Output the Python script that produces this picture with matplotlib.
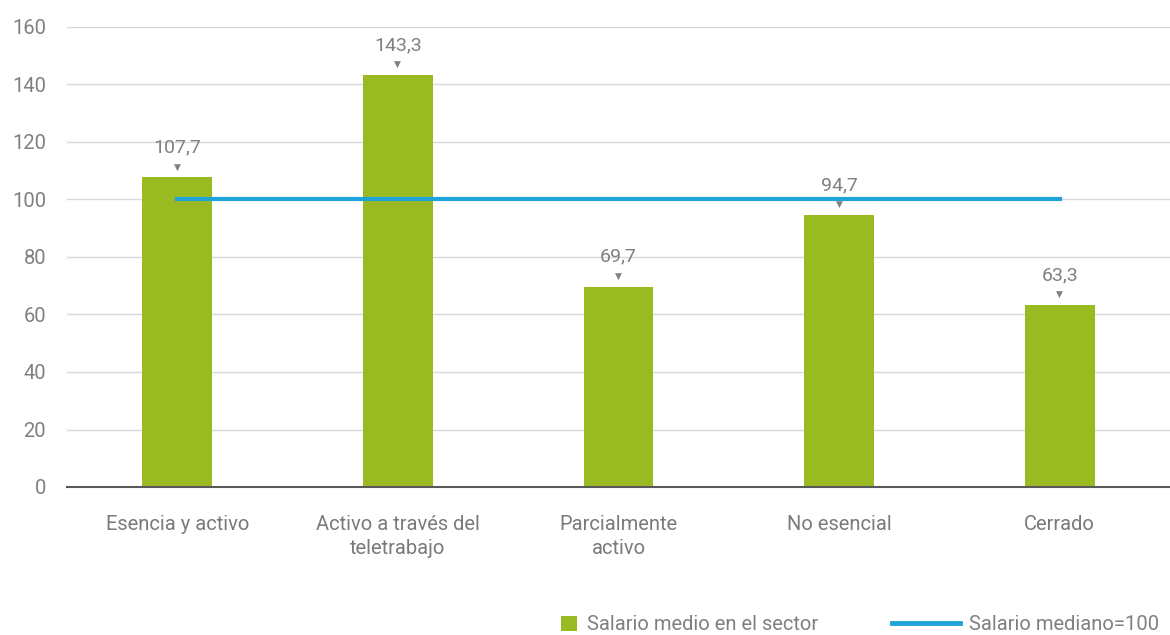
import matplotlib
matplotlib.use("Agg")
import matplotlib.pyplot as plt
from matplotlib.lines import Line2D
from matplotlib.patches import Patch

# Datos
categorias = ["Esencia y activo", "Activo a través del\nteletrabajo", "Parcialmente\nactivo",
              "No esencial", "Cerrado"]
salario_medio = [107.7, 143.3, 69.7, 94.7, 63.3]
salario_mediano = [100, 100, 100, 100, 100]
yticks = [0, 20, 40, 60, 80, 100, 120, 140, 160]

verde = "#9aba22"
azul = "#1fa3d8"
gris = "#808080"

plt.rcParams["font.family"] = ["Roboto", "DejaVu Sans"]

fig = plt.figure(figsize=(11.7, 6.35), dpi=100)
ax = fig.add_axes([67 / 1170, 1 - 487 / 635, 1 - 67 / 1170, (487 - 27) / 635])

x = list(range(len(categorias)))
ax.bar(x, salario_medio, width=0.317, color=verde, zorder=3)
ax.plot(x, salario_mediano, color=azul, linewidth=3, zorder=4)

# Etiquetas de valores con triangulito
for xi, v in zip(x, salario_medio):
    ax.annotate("▼", (xi, v), xytext=(0, 7.5), textcoords="offset points",
                ha="center", va="center", fontsize=6.5, color=gris, zorder=5)
    ax.annotate(f"{v:.1f}".replace(".", ","), (xi, v), xytext=(0, 21.5),
                textcoords="offset points", ha="center", va="center",
                fontsize=14, color=gris, zorder=5)

ax.set_xlim(-0.5, 4.5)
ax.set_ylim(0, 160)
ax.set_yticks(yticks)
ax.set_xticks(x)
ax.set_xticklabels(categorias, fontsize=14.5, color="#7a7a7a", linespacing=1.35)
ax.tick_params(axis="y", length=0, pad=15, labelsize=14.5, labelcolor=gris)
ax.tick_params(axis="x", length=0, pad=20)
ax.grid(axis="y", color="#d9d9d9", linewidth=1, zorder=0)
for s in ["top", "right", "left"]:
    ax.spines[s].set_visible(False)
ax.spines["bottom"].set_color("#595959")
ax.spines["bottom"].set_linewidth(1.5)
ax.spines["bottom"].set_zorder(5)

# Leyenda en dos partes
y_leg = 1 - 625 / 635
leg1 = fig.legend(handles=[Patch(facecolor=verde, label="Salario medio en el sector")],
                  loc="center left", bbox_to_anchor=(561 / 1170, y_leg), frameon=False,
                  fontsize=14.5, handlelength=0.8, handleheight=0.8, handletextpad=0.5,
                  borderpad=0, borderaxespad=0)
leg2 = fig.legend(handles=[Line2D([0], [0], color=azul, linewidth=3.5, label="Salario mediano=100")],
                  loc="center left", bbox_to_anchor=(892 / 1170, y_leg), frameon=False,
                  fontsize=14.5, handlelength=3.4, handletextpad=0.4,
                  borderpad=0, borderaxespad=0)
for leg in (leg1, leg2):
    for t in leg.get_texts():
        t.set_color(gris)

fig.savefig("out.png", dpi=100)
